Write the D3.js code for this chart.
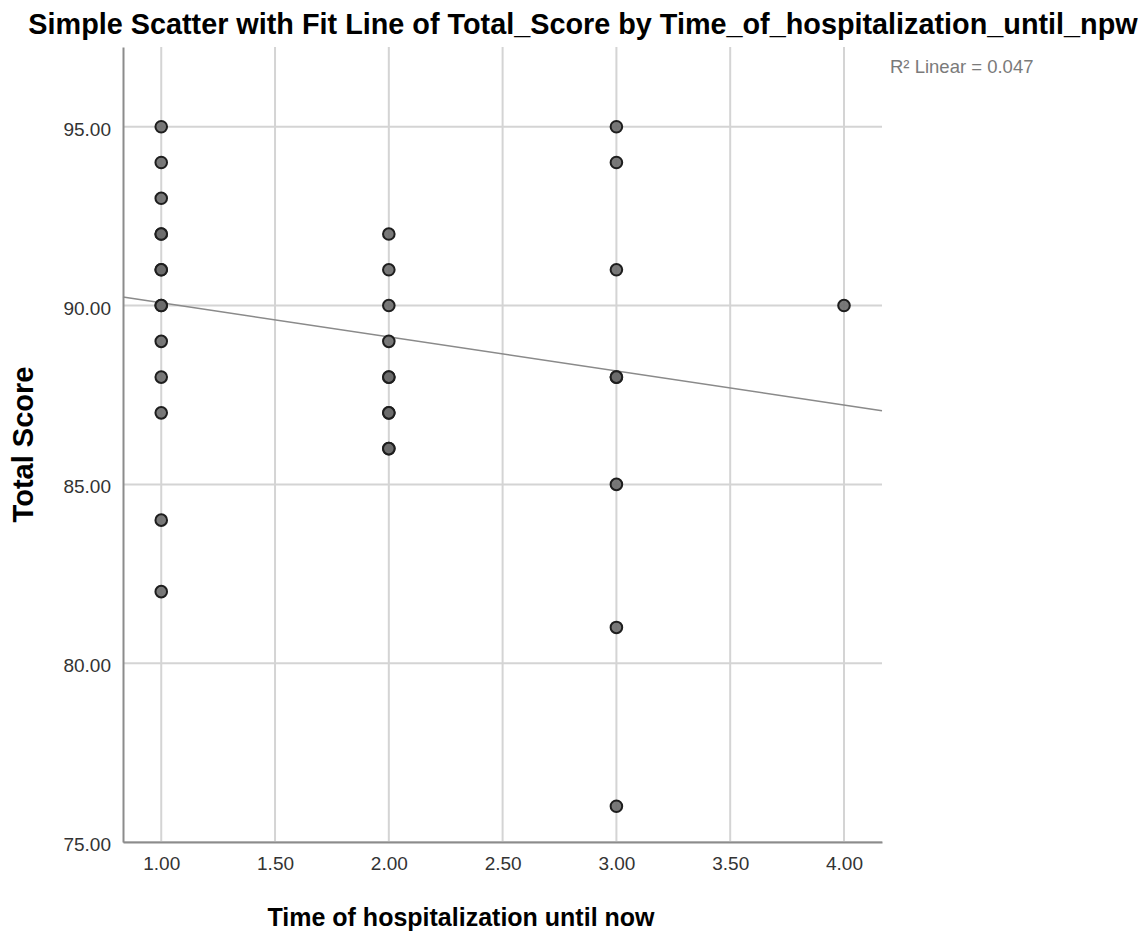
<!DOCTYPE html>
<html lang="en">
  <head>
    <meta charset="utf-8"/>
    <title>Simple Scatter with Fit Line</title>
    <script src="https://cdn.jsdelivr.net/npm/d3@7"></script>
    <style>
      body { margin: 0; background: #fff; }
      text { font-family: "Liberation Sans", Arial, sans-serif; }
    </style>
  </head>
  <body>
    <div id="chart"></div>
    <script type="text/javascript">

      // observations: time of hospitalization (x) and total score (y)
      var timeValues  = [1,1,1,1,1,1,1,1,1,1,1,1,1,1, 2,2,2,2,2,2,2,2,2,2, 3,3,3,3,3,3,3,3, 4];
      var scoreValues = [95,94,93,92,92,91,91,90,90,89,88,87,84,82, 92,91,90,89,88,88,87,87,86,86, 95,94,91,88,88,85,81,76, 90];

      // tick values
      var xTicks = [1, 1.5, 2, 2.5, 3, 3.5, 4];
      var yTicks = [75, 80, 85, 90, 95];

      // fit line
      var fitIntercept = 91.03;
      var fitSlope = -0.953;
      var rSquaredLabel = "R\u00B2 Linear = 0.047";

      var width = 1141, height = 932;
      var plot = { left: 123, right: 882, top: 47, bottom: 842 };

      var x = d3.scaleLinear()
        .domain([0.832, 4.167])
        .range([plot.left, plot.right]);

      var y = d3.scaleLinear()
        .domain([75, 97.23])
        .range([plot.bottom, plot.top]);

      var svg = d3.select("#chart")
        .append("svg")
        .attr("width", width)
        .attr("height", height);

      // title
      svg.append("text")
        .attr("x", 583)
        .attr("y", 34)
        .attr("text-anchor", "middle")
        .style("font-size", "28.8px")
        .style("font-weight", "bold")
        .style("fill", "#000")
        .text("Simple Scatter with Fit Line of Total_Score by Time_of_hospitalization_until_npw");

      // gridlines
      svg.append("g")
        .selectAll("line")
        .data(xTicks)
        .enter()
        .append("line")
        .attr("x1", function(d) { return x(d); })
        .attr("x2", function(d) { return x(d); })
        .attr("y1", plot.top)
        .attr("y2", plot.bottom)
        .style("stroke", "#d4d4d4")
        .style("stroke-width", 2);

      svg.append("g")
        .selectAll("line")
        .data(yTicks)
        .enter()
        .append("line")
        .attr("x1", plot.left)
        .attr("x2", plot.right)
        .attr("y1", function(d) { return y(d); })
        .attr("y2", function(d) { return y(d); })
        .style("stroke", "#d4d4d4")
        .style("stroke-width", 2);

      // axes (no tick marks, just labels)
      var xAxis = svg.append("g")
        .attr("transform", "translate(0," + plot.bottom + ")")
        .call(d3.axisBottom(x).tickValues(xTicks).tickFormat(d3.format(".2f")).tickSize(0).tickPadding(15));

      var yAxis = svg.append("g")
        .attr("transform", "translate(" + plot.left + ",0)")
        .call(d3.axisLeft(y).tickValues(yTicks).tickFormat(d3.format(".2f")).tickSize(0).tickPadding(12));

      [xAxis, yAxis].forEach(function(a) {
        a.select(".domain").style("stroke", "#8c8c8c").style("stroke-width", 2);
        a.selectAll("text")
          .style("font-size", "19px")
          .style("fill", "#333")
          .style("font-family", "'Liberation Sans', Arial, sans-serif");
      });
      yAxis.selectAll("text").attr("dy", "0.45em");

      // fit line across the whole x range
      var xd = x.domain();
      svg.append("line")
        .attr("x1", x(xd[0]))
        .attr("y1", y(fitIntercept + fitSlope * xd[0]))
        .attr("x2", x(xd[1]))
        .attr("y2", y(fitIntercept + fitSlope * xd[1]))
        .style("stroke", "#8a8a8a")
        .style("stroke-width", 1.5);

      // points
      svg.append("g")
        .selectAll("circle")
        .data(timeValues.map(function(t, i) { return [t, scoreValues[i]]; }))
        .enter()
        .append("circle")
        .attr("cx", function(d) { return x(d[0]); })
        .attr("cy", function(d) { return y(d[1]); })
        .attr("r", 5.8)
        .style("fill", "#6a6a6a")
        .style("fill-opacity", 0.9)
        .style("stroke", "#1e1e1e")
        .style("stroke-width", 2);

      // R squared annotation
      svg.append("text")
        .attr("x", 890)
        .attr("y", 73)
        .style("font-size", "18.5px")
        .style("fill", "#7a7a7a")
        .text(rSquaredLabel);

      // axis titles
      svg.append("text")
        .attr("x", 461)
        .attr("y", 926)
        .attr("text-anchor", "middle")
        .style("font-size", "25px")
        .style("font-weight", "bold")
        .text("Time of hospitalization until now");

      svg.append("text")
        .attr("transform", "translate(33," + ((plot.top + plot.bottom) / 2) + ")rotate(-90)")
        .attr("text-anchor", "middle")
        .style("font-size", "29px")
        .style("font-weight", "bold")
        .text("Total Score");
    </script>
  </body>
</html>
